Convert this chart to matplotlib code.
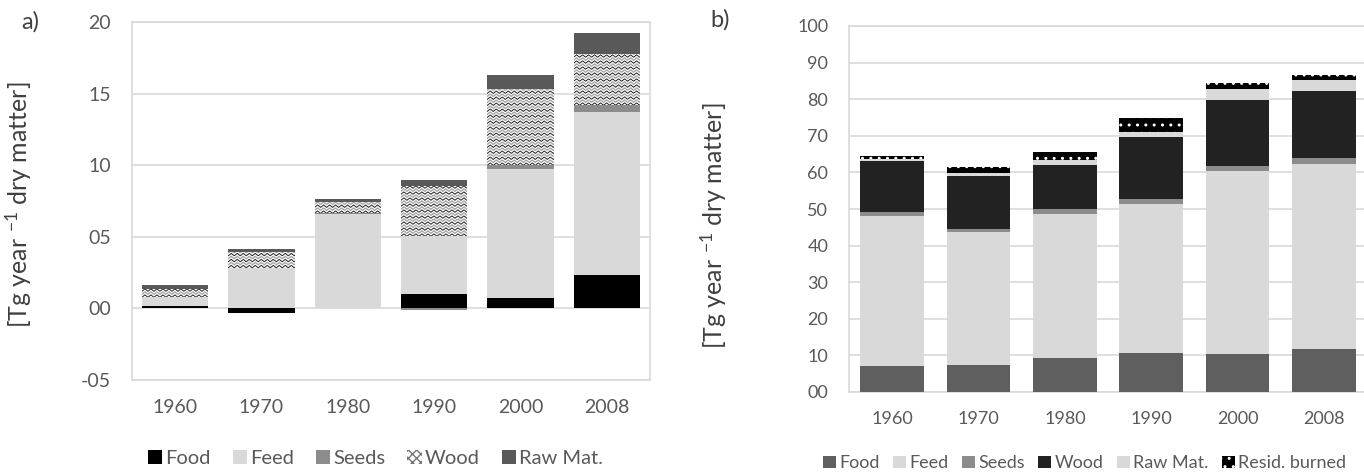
import numpy as np
import matplotlib
matplotlib.use("Agg")
import matplotlib.pyplot as plt
from matplotlib.lines import Line2D
from matplotlib.patches import Patch
from matplotlib.transforms import IdentityTransform

plt.rcParams['font.family'] = ['Lato', 'DejaVu Sans']
plt.rcParams['mathtext.default'] = 'regular'

# --- data ---
years = ["1960", "1970", "1980", "1990", "2000", "2008"]

# panel a (change, Tg/yr dry matter)
a_food = [0.17, -0.3, 0.0, 1.0, 0.75, 2.3]
a_feed = [0.6, 2.8, 6.6, 4.05, 8.95, 11.4]
a_seeds = [0.02, 0.05, 0.05, -0.1, 0.3, 0.5]
a_wood = [0.53, 1.1, 0.8, 3.5, 5.3, 3.6]
a_raw = [0.31, 0.2, 0.2, 0.4, 1.0, 1.45]
a_ticks = [-5, 0, 5, 10, 15, 20]
a_ticklabels = ["-05", "00", "05", "10", "15", "20"]

# panel b (totals)
b_food = [7.1, 7.4, 9.2, 10.7, 10.4, 11.7]
b_feed = [41.0, 36.2, 39.5, 40.8, 50.1, 50.6]
b_seeds = [1.0, 0.8, 1.2, 1.1, 1.2, 1.7]
b_wood = [14.0, 14.6, 12.1, 17.1, 18.2, 18.2]
b_raw = [0.6, 0.9, 1.4, 1.3, 2.9, 3.0]
b_resid = [0.9, 1.5, 2.2, 3.8, 1.5, 1.3]
b_ticks = list(range(0, 101, 10))
b_ticklabels = ["00", "10", "20", "30", "40", "50", "60", "70", "80", "90", "100"]

ylabel = "[Tg year $^{-1}$ dry matter]"
txt_col = "#595959"
grid_col = "#d9d9d9"

W, H = 1364, 472
fig = plt.figure(figsize=(W / 100, H / 100), dpi=100)
ax_a = fig.add_axes([132 / W, (H - 380) / H, 518 / W, 358 / H])
ax_b = fig.add_axes([849 / W, (H - 392) / H, 518 / W, 366 / H])

x = np.arange(len(years))


def stack(ax, series, width):
    pos = np.zeros(len(years))
    neg = np.zeros(len(years))
    out = []
    for vals, style in series:
        vals = np.array(vals, dtype=float)
        bottom = np.where(vals >= 0, pos, neg)
        bars = ax.bar(x, vals, width, bottom=bottom, zorder=3, linewidth=0, **style)
        pos = pos + np.clip(vals, 0, None)
        neg = neg + np.clip(vals, None, 0)
        out.append(bars)
    return out


def style_axes(ax, ylim, ticks, ticklabels, fs):
    ax.set_xlim(-0.5, len(years) - 0.5)
    ax.set_ylim(*ylim)
    ax.set_yticks(ticks)
    ax.set_yticklabels(ticklabels)
    ax.set_xticks(x)
    ax.set_xticklabels(years)
    ax.tick_params(length=0, labelsize=fs, colors=txt_col)
    ax.tick_params(axis="y", pad=15)
    ax.tick_params(axis="x", pad=14)
    ax.grid(axis="y", color=grid_col, linewidth=1.2, zorder=0)
    ax.set_axisbelow(True)
    for s in ax.spines.values():
        s.set_color(grid_col)
        s.set_linewidth(1.2)


# --- panel a ---
style_axes(ax_a, (-5, 20), a_ticks, a_ticklabels, 14)
bars_a = stack(ax_a, [
    (a_food, dict(color="black")),
    (a_feed, dict(color="#d9d9d9")),
    (a_seeds, dict(color="#8c8c8c")),
    (a_wood, dict(color="white")),
    (a_raw, dict(color="#595959")),
], 0.77)

# zigzag texture for the wood bars
for patch in bars_a[3]:
    bb = patch.get_window_extent()
    if bb.height < 1:
        continue
    xs = np.arange(bb.x0 - 3, bb.x1 + 4, 3.0)
    for k, yy in enumerate(np.arange(bb.y0 + 1, bb.y1 + 2, 3.0)):
        ys = yy + 1.2 * np.where(np.arange(len(xs)) % 2 == 0, 1, -1)
        col = "#222222" if k % 2 == 0 else "#a6a6a6"
        ln = Line2D(xs, ys, color=col, linewidth=0.7 if k % 2 == 0 else 1.0,
                    transform=IdentityTransform(), zorder=4)
        ln.set_clip_path(patch)
        fig.add_artist(ln)

ax_a.set_ylabel(ylabel, fontsize=18, color="#404040")
ax_a.yaxis.set_label_coords(-0.19, 0.49)

leg_a = [
    Patch(facecolor="black", label="Food"),
    Patch(facecolor="#d9d9d9", label="Feed"),
    Patch(facecolor="#8c8c8c", label="Seeds"),
    Patch(facecolor="white", edgecolor="#777777", hatch="xxxx", linewidth=0, label="Wood"),
    Patch(facecolor="#595959", label="Raw Mat."),
]
ax_a.legend(handles=leg_a, loc="center", bbox_to_anchor=(0.47, -0.22), ncol=5,
            frameon=False, fontsize=14.5, handlelength=0.7, handleheight=0.7,
            handletextpad=0.15, columnspacing=1.1, labelcolor=txt_col)

# --- panel b ---
style_axes(ax_b, (0, 100), b_ticks, b_ticklabels, 13)
ax_b.spines["right"].set_visible(False)
stack(ax_b, [
    (b_food, dict(color="#5f5f5f")),
    (b_feed, dict(color="#d9d9d9")),
    (b_seeds, dict(color="#8c8c8c")),
    (b_wood, dict(color="#222222")),
    (b_raw, dict(color="#d9d9d9")),
    (b_resid, dict(color="black", hatch="..", edgecolor="white")),
], 0.74)

ax_b.set_ylabel(ylabel, fontsize=18, color="#404040")
ax_b.yaxis.set_label_coords(-0.232, 0.455)

leg_b = [
    Patch(facecolor="#5f5f5f", label="Food"),
    Patch(facecolor="#d9d9d9", label="Feed"),
    Patch(facecolor="#8c8c8c", label="Seeds"),
    Patch(facecolor="#222222", label="Wood"),
    Patch(facecolor="#d9d9d9", label="Raw Mat."),
    Patch(facecolor="black", hatch="..", edgecolor="white", linewidth=0, label="Resid. burned"),
]
ax_b.legend(handles=leg_b, loc="center", bbox_to_anchor=(0.455, -0.195), ncol=6,
            frameon=False, fontsize=13, handlelength=0.7, handleheight=0.7,
            handletextpad=0.2, columnspacing=0.75, labelcolor=txt_col)

fig.text(30 / W, 1 - 22 / H, "a)", fontsize=17, va="center", ha="center", color="#404040")
fig.text(720 / W, 1 - 20 / H, "b)", fontsize=17, va="center", ha="center", color="#404040")

fig.savefig("out.png", dpi=100)
